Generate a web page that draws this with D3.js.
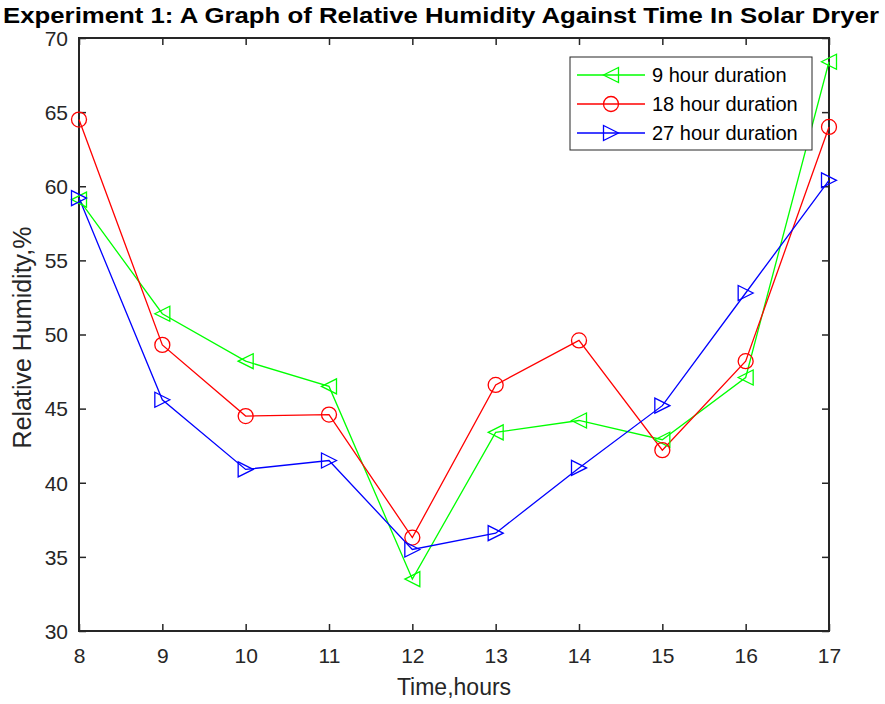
<!DOCTYPE html>
<html>
<head>
<meta charset="utf-8">
<script src="https://cdn.jsdelivr.net/npm/d3@7"></script>
<style>
  body { margin: 0; background: #fff; }
  svg { display: block; font-family: "Liberation Sans", Arial, sans-serif; }
</style>
</head>
<body>
<svg id="chart" width="885" height="704"></svg>
<script>
// Data
const hours = [8, 9, 10, 11, 12, 13, 14, 15, 16, 17];
const rh9h  = [59.1, 51.4, 48.2, 46.5, 33.5, 43.4, 44.2, 42.9, 47.1, 68.4];
const rh18h = [64.5, 49.3, 44.5, 44.6, 36.3, 46.6, 49.6, 42.2, 48.2, 64.0];
const rh27h = [59.2, 45.6, 40.9, 41.5, 35.5, 36.6, 41.0, 45.2, 52.8, 60.4];
const yTicks = [30, 35, 40, 45, 50, 55, 60, 65, 70];

const series = [
  { label: '9 hour duration',  values: rh9h,  color: '#00ff00', marker: 'left' },
  { label: '18 hour duration', values: rh18h, color: '#ff0000', marker: 'circle' },
  { label: '27 hour duration', values: rh27h, color: '#0000ff', marker: 'right' },
];

const M = { left: 79, right: 829, top: 38, bottom: 631 };
const AX = '#262626';

const svg = d3.select('#chart');
const x = d3.scaleLinear().domain([8, 17]).range([M.left, M.right]);
const y = d3.scaleLinear().domain([30, 70]).range([M.bottom, M.top]);

// markers
function markerPath(type, s) {
  const h = s / 2;
  if (type === 'left') return `M${-h},0L${h},${-h}L${h},${h}Z`;
  return `M${h},0L${-h},${-h}L${-h},${h}Z`;
}
function drawMarker(g, type, color) {
  if (type === 'circle') {
    g.append('circle').attr('r', 7.5).attr('fill', 'none')
      .attr('stroke', color).attr('stroke-width', 1.3);
  } else {
    g.append('path').attr('d', markerPath(type, 15)).attr('fill', 'none')
      .attr('stroke', color).attr('stroke-width', 1.3);
  }
}

// axes (box style, ticks inward)
const tickLen = 7;
const gx = svg.append('g').attr('transform', `translate(0,${M.bottom})`)
  .call(d3.axisBottom(x).tickValues(hours).tickSize(-tickLen).tickPadding(17).tickFormat(d3.format('d')));
const gxTop = svg.append('g').attr('transform', `translate(0,${M.top})`)
  .call(d3.axisTop(x).tickValues(hours).tickSize(-tickLen).tickFormat(''));
const gy = svg.append('g').attr('transform', `translate(${M.left},0)`)
  .call(d3.axisLeft(y).tickValues(yTicks).tickSize(-tickLen).tickPadding(11));
const gyR = svg.append('g').attr('transform', `translate(${M.right},0)`)
  .call(d3.axisRight(y).tickValues(yTicks).tickSize(-tickLen).tickFormat(''));

[gx, gxTop, gy, gyR].forEach(g => {
  g.select('.domain').remove();
  g.selectAll('.tick line').attr('stroke', AX).attr('stroke-width', 1.5);
  g.selectAll('.tick text').attr('fill', AX).style('font-size', '21px')
    .style('font-family', '"Liberation Sans", Arial, sans-serif');
});
svg.append('rect').attr('x', M.left).attr('y', M.top)
  .attr('width', M.right - M.left).attr('height', M.bottom - M.top)
  .attr('fill', 'none').attr('stroke', AX).attr('stroke-width', 2);
gy.selectAll('.tick text').attr('dy', '0.35em');

// lines
const line = d3.line().x((d, i) => x(hours[i])).y(d => y(d));
series.forEach(s => {
  svg.append('path').datum(s.values).attr('d', line)
    .attr('fill', 'none').attr('stroke', s.color).attr('stroke-width', 1.3);
});
series.forEach(s => {
  s.values.forEach((v, i) => {
    const g = svg.append('g').attr('transform', `translate(${x(hours[i])},${y(v)})`);
    drawMarker(g, s.marker, s.color);
  });
});

// title and axis labels
svg.append('text').attr('x', 441).attr('y', 23).attr('text-anchor', 'middle')
  .attr('font-weight', 'bold').style('font-size', '22px').attr('fill', '#000')
  .attr('textLength', 876).attr('lengthAdjust', 'spacingAndGlyphs')
  .text('Experiment 1: A Graph of Relative Humidity Against Time In Solar Dryer');
svg.append('text').attr('x', (M.left + M.right) / 2).attr('y', 695)
  .attr('text-anchor', 'middle').style('font-size', '23px').attr('fill', AX)
  .text('Time,hours');
svg.append('text').attr('transform', `translate(31,${(M.top + M.bottom) / 2 + 3}) rotate(-90)`)
  .attr('text-anchor', 'middle').style('font-size', '25px').attr('fill', AX)
  .text('Relative Humidity,%');

// legend
const lg = svg.append('g').attr('transform', 'translate(570,57)');
lg.append('rect').attr('width', 242).attr('height', 93)
  .attr('fill', '#fff').attr('stroke', AX).attr('stroke-width', 1);
series.forEach((s, i) => {
  const row = lg.append('g').attr('transform', `translate(0,${18 + i * 29})`);
  row.append('line').attr('x1', 7).attr('x2', 75).attr('stroke', s.color).attr('stroke-width', 1.3);
  const m = row.append('g').attr('transform', 'translate(41,0)');
  drawMarker(m, s.marker, s.color);
  row.append('text').attr('x', 82).attr('dy', '0.35em').style('font-size', '20px')
    .attr('fill', '#000').text(s.label);
});
</script>
</body>
</html>
